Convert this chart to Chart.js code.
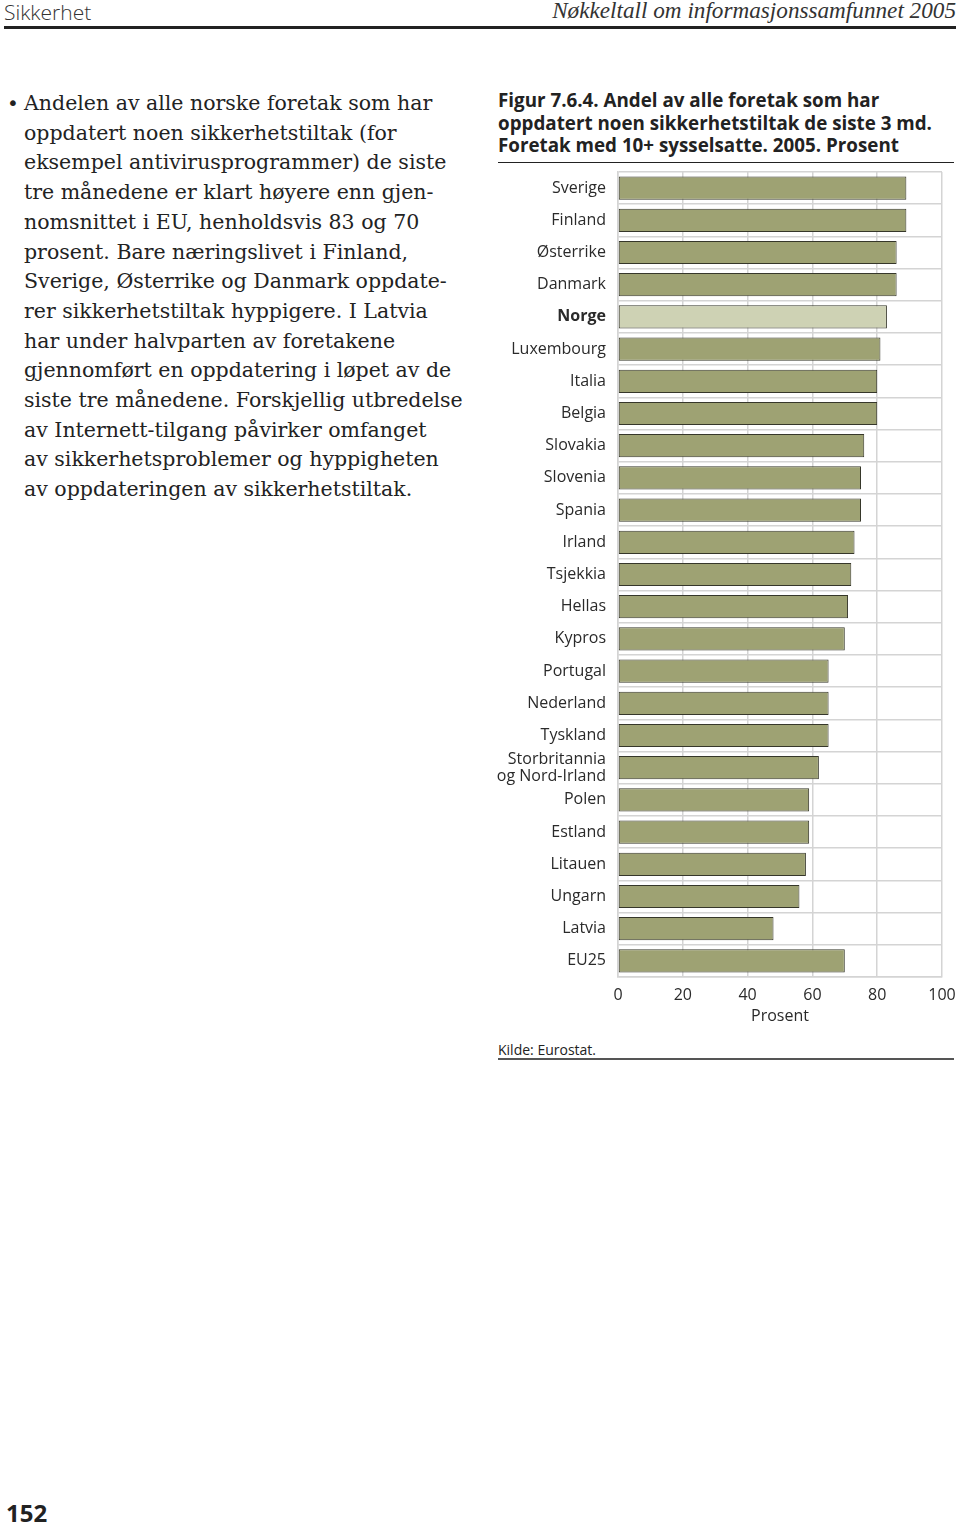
<!DOCTYPE html>
<html>
<head>
<meta charset="utf-8">
<script src="https://cdn.jsdelivr.net/npm/chart.js@4.4.1/dist/chart.umd.min.js"></script>
<style>
  html, body { margin: 0; padding: 0; background: #fff; }
  body { width: 960px; height: 1526px; position: relative; overflow: hidden; color: #222; }
  .hdr-left { position: absolute; left: 4px; top: -2px; font: 300 21px "Open Sans", sans-serif; color: #333; }
  .hdr-right { position: absolute; right: 4px; top: -3px; font: italic 23.2px "Liberation Serif", serif; color: #333; }
  .hdr-rule { position: absolute; left: 4px; right: 4px; top: 26px; height: 3px; background: #222; }
  .body-text { position: absolute; left: 24px; top: 89px; font: 20.5px "DejaVu Serif", serif; line-height: 29.7px; color: #222; white-space: nowrap; }
  .bullet { position: absolute; left: 7px; top: 89px; font: 20px "DejaVu Sans", sans-serif; line-height: 29.7px; }
  .fig-title { position: absolute; left: 498px; top: 89px; font: bold 18.8px "Open Sans", sans-serif; line-height: 22.6px; color: #222; white-space: nowrap; }
  .fig-rule { position: absolute; left: 498px; width: 456px; top: 162px; height: 1px; background: #222; }
  .chart-box { position: absolute; left: 496px; top: 166px; width: 462px; height: 870px; }
  .source { position: absolute; left: 498px; top: 1040px; font: 14px "Open Sans", sans-serif; color: #222; }
  .src-rule { position: absolute; left: 498px; width: 456px; top: 1058px; height: 2px; background: #555; }
  .page-no { position: absolute; left: 6px; top: 1496px; font: bold 24px "Open Sans", sans-serif; color: #222; }
</style>
</head>
<body>
<div class="hdr-left">Sikkerhet</div>
<div class="hdr-right">Nøkkeltall om informasjonssamfunnet 2005</div>
<div class="hdr-rule"></div>

<div class="bullet">•</div>
<div class="body-text">
Andelen av alle norske foretak som har<br>
oppdatert noen sikkerhetstiltak (for<br>
eksempel antivirusprogrammer) de siste<br>
tre månedene er klart høyere enn gjen-<br>
nomsnittet i EU, henholdsvis 83 og 70<br>
prosent. Bare næringslivet i Finland,<br>
Sverige, Østerrike og Danmark oppdate-<br>
rer sikkerhetstiltak hyppigere. I Latvia<br>
har under halvparten av foretakene<br>
gjennomført en oppdatering i løpet av de<br>
siste tre månedene. Forskjellig utbredelse<br>
av Internett-tilgang påvirker omfanget<br>
av sikkerhetsproblemer og hyppigheten<br>
av oppdateringen av sikkerhetstiltak.
</div>

<div class="fig-title">Figur 7.6.4. Andel av alle foretak som har<br>oppdatert noen sikkerhetstiltak de siste 3 md.<br>Foretak med 10+ sysselsatte. 2005. Prosent</div>
<div class="fig-rule"></div>

<div class="chart-box"><canvas id="chart"></canvas></div>

<div class="source">Kilde: Eurostat.</div>
<div class="src-rule"></div>
<div class="page-no">152</div>

<script>
const countries = [
  'Sverige', 'Finland', 'Østerrike', 'Danmark', 'Norge', 'Luxembourg', 'Italia',
  'Belgia', 'Slovakia', 'Slovenia', 'Spania', 'Irland', 'Tsjekkia', 'Hellas',
  'Kypros', 'Portugal', 'Nederland', 'Tyskland',
  ['Storbritannia', 'og Nord-Irland'],
  'Polen', 'Estland', 'Litauen', 'Ungarn', 'Latvia', 'EU25'
];
const shares = [89, 89, 86, 86, 83, 81, 80, 80, 76, 75, 75, 73, 72, 71, 70, 65, 65, 65, 62, 59, 59, 58, 56, 48, 70];
const xTicks = [0, 20, 40, 60, 80, 100];
const highlight = 'Norge';

const barColor = '#9ea273';
const highlightColor = '#ced2b4';
const gridColor = '#d4d4d4';

// fixed axis sizes, and no automatic label overhang padding
const fitAxis = (size) => (axis) => {
  if (axis.isHorizontal()) axis.height = size; else axis.width = size;
  axis.paddingTop = axis.paddingBottom = axis.paddingLeft = axis.paddingRight = 0;
};

new Chart(document.getElementById('chart'), {
  type: 'bar',
  data: {
    labels: countries,
    datasets: [{
      data: shares,
      backgroundColor: countries.map(c => c === highlight ? highlightColor : barColor),
      borderColor: '#36372a',
      borderWidth: 1,
      borderSkipped: false,
      barPercentage: 0.72,
      categoryPercentage: 1
    }]
  },
  options: {
    indexAxis: 'y',
    responsive: true,
    maintainAspectRatio: false,
    animation: false,
    layout: { padding: { top: 6, right: 16, bottom: 10, left: 0 } },
    plugins: {
      legend: { display: false },
      tooltip: { enabled: false }
    },
    scales: {
      x: {
        min: 0,
        max: 100,
        afterBuildTicks: (axis) => { axis.ticks = xTicks.map(v => ({ value: v })); },
        afterFit: fitAxis(49),
        grid: { color: gridColor, lineWidth: 1.5, drawTicks: false },
        border: { color: gridColor, width: 1.5 },
        ticks: {
          padding: 9,
          maxRotation: 0,
          color: '#2a2a2a',
          font: { family: 'Open Sans', size: 16 }
        },
        title: {
          display: true,
          text: 'Prosent',
          color: '#2a2a2a',
          padding: { top: 0, bottom: 0 },
          font: { family: 'Open Sans', size: 16 }
        }
      },
      y: {
        afterFit: fitAxis(122),
        grid: { color: gridColor, lineWidth: 1.5, drawTicks: false, offset: true },
        border: { color: gridColor, width: 1.5 },
        ticks: {
          padding: 12,
          autoSkip: false,
          color: '#2a2a2a',
          font: (ctx) => ({
            family: 'Open Sans',
            size: 16,
            lineHeight: 1.05,
            weight: countries[ctx.index] === highlight ? 'bold' : 'normal'
          })
        }
      }
    }
  }
});
</script>
</body>
</html>
